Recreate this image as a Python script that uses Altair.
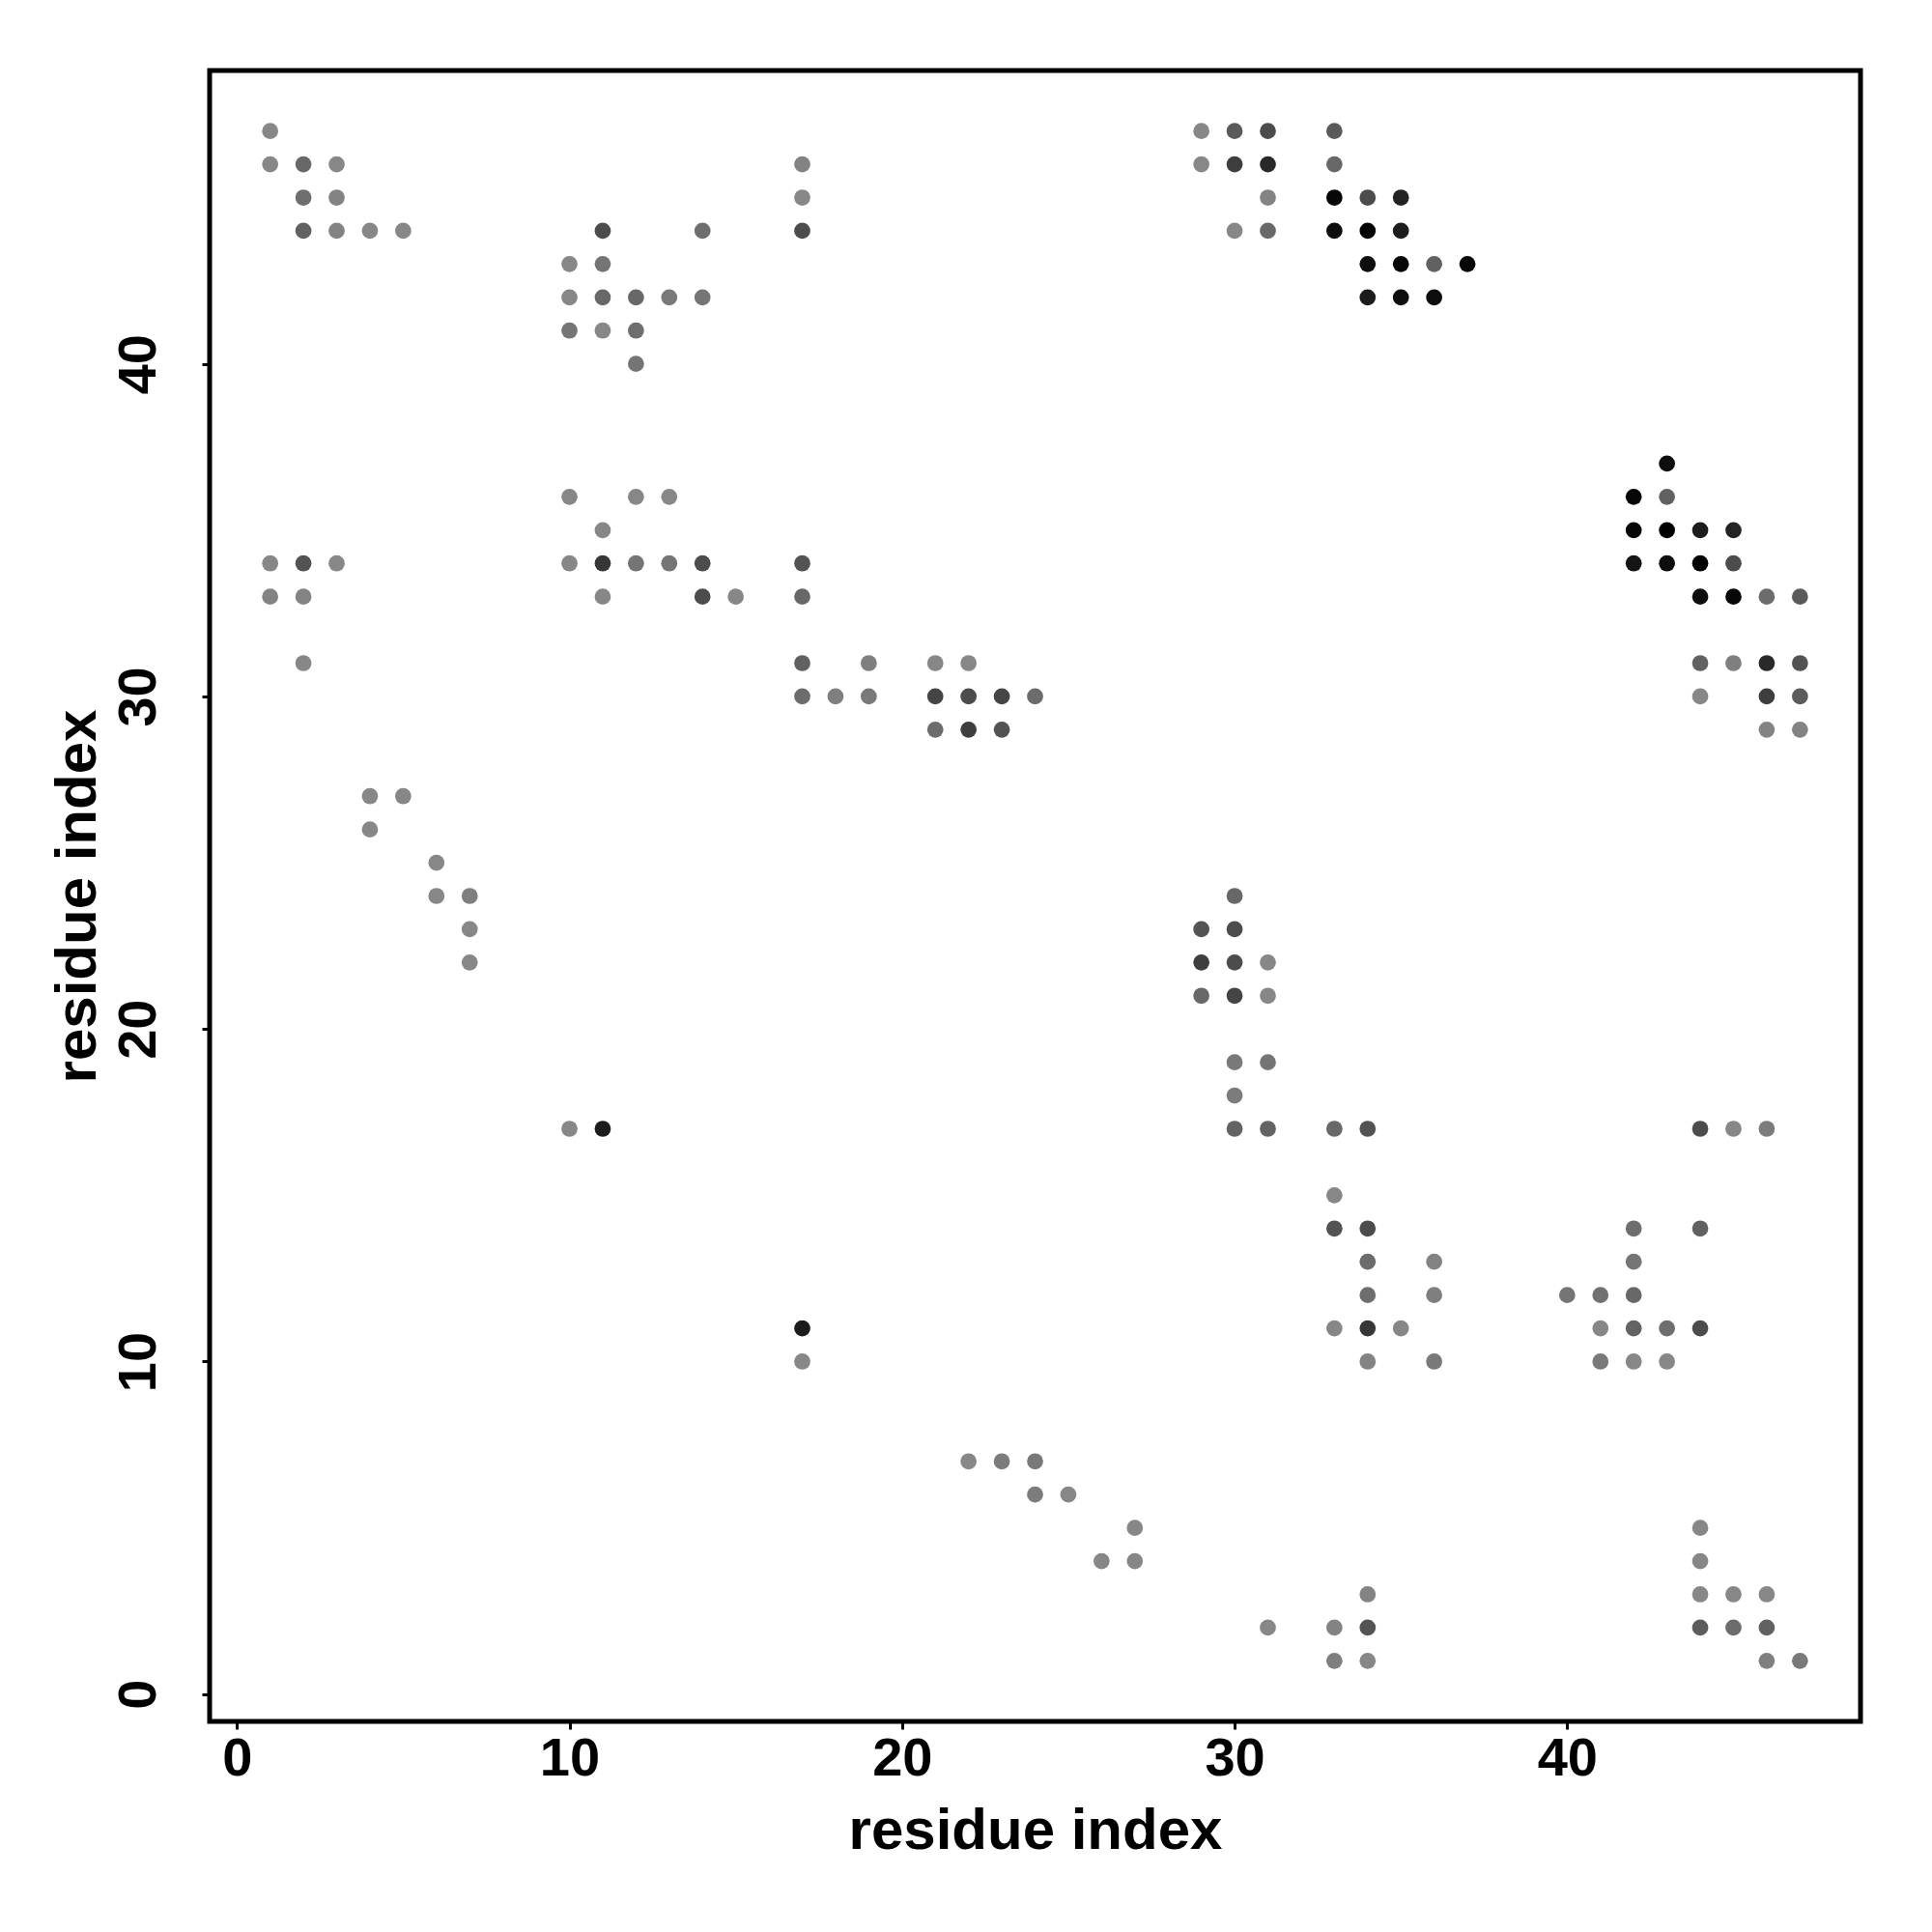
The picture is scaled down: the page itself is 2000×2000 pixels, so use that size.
import altair as alt
import pandas as pd

# residue pairs (x, y) and contact strength (0 = faint grey, 1 = black)
xs = [1, 1, 2, 3, 2, 3, 2, 3, 4, 5,
      11, 14, 10, 11, 10, 11, 12, 13, 14, 10, 11, 12, 12,
      17, 17, 17,
      29, 30, 31, 33, 29, 30, 31, 33, 31, 33, 34, 35, 30, 31, 33, 34, 35, 34, 35, 36, 37, 34, 35, 36,
      43, 42, 43, 42, 43, 44, 45, 42, 43, 44, 45, 44, 45, 46, 47, 44, 45, 46, 47, 44, 46, 47, 46, 47,
      1, 2, 3, 1, 2, 2,
      10, 12, 13, 11, 10, 11, 12, 13, 14, 11, 14, 15, 17, 17,
      17, 19, 17, 18, 19, 21, 22, 21, 22, 23, 24, 21, 22, 23,
      4, 5, 4, 6, 6, 7, 7, 7,
      10, 11,
      30, 29, 30, 29, 30, 31, 29, 30, 31, 30, 31, 30, 30, 31,
      33, 34, 44, 45, 46,
      33, 33, 34, 42, 44, 34, 36, 42, 34, 36, 40, 41, 42,
      33, 34, 35, 41, 42, 43, 44, 34, 36, 41, 42, 43,
      17, 17,
      22, 23, 24, 24, 25, 27, 26, 27,
      31, 33, 34, 34, 33, 34,
      44, 44, 44, 45, 46, 44, 45, 46, 46, 47]

ys = [47, 46, 46, 46, 45, 45, 44, 44, 44, 44,
      44, 44, 43, 43, 42, 42, 42, 42, 42, 41, 41, 41, 40,
      46, 45, 44,
      47, 47, 47, 47, 46, 46, 46, 46, 45, 45, 45, 45, 44, 44, 44, 44, 44, 43, 43, 43, 43, 42, 42, 42,
      37, 36, 36, 35, 35, 35, 35, 34, 34, 34, 34, 33, 33, 33, 33, 31, 31, 31, 31, 30, 30, 30, 29, 29,
      34, 34, 34, 33, 33, 31,
      36, 36, 36, 35, 34, 34, 34, 34, 34, 33, 33, 33, 34, 33,
      31, 31, 30, 30, 30, 31, 31, 30, 30, 30, 30, 29, 29, 29,
      27, 27, 26, 25, 24, 24, 23, 22,
      17, 17,
      24, 23, 23, 22, 22, 22, 21, 21, 21, 19, 19, 18, 17, 17,
      17, 17, 17, 17, 17,
      15, 14, 14, 14, 14, 13, 13, 13, 12, 12, 12, 12, 12,
      11, 11, 11, 11, 11, 11, 11, 10, 10, 10, 10, 10,
      11, 10,
      7, 7, 7, 6, 6, 5, 4, 4,
      2, 2, 2, 3, 1, 1,
      5, 4, 3, 3, 3, 2, 2, 2, 1, 1]

vs = [0.02, 0.02, 0.25, 0.02, 0.2, 0.05, 0.3, 0.05, 0.02, 0.02,
      0.45, 0.2, 0.02, 0.15, 0.02, 0.25, 0.25, 0.12, 0.15, 0.15, 0.02, 0.2, 0.15,
      0.05, 0.02, 0.45,
      0.02, 0.35, 0.45, 0.35, 0.02, 0.55, 0.7, 0.25, 0.05, 0.95, 0.45, 0.75, 0.02, 0.25, 0.9, 1.0, 0.8, 0.9, 0.95, 0.3, 0.95, 0.8, 0.9, 0.9,
      0.9, 0.95, 0.3, 0.95, 1.0, 0.8, 0.75, 0.85, 0.9, 1.0, 0.45, 0.9, 0.95, 0.22, 0.35, 0.3, 0.08, 0.7, 0.4, 0.02, 0.55, 0.33, 0.05, 0.05,
      0.02, 0.4, 0.02, 0.05, 0.05, 0.02,
      0.02, 0.02, 0.02, 0.02, 0.02, 0.6, 0.15, 0.15, 0.45, 0.02, 0.45, 0.02, 0.4, 0.25,
      0.3, 0.08, 0.22, 0.08, 0.12, 0.02, 0.02, 0.5, 0.45, 0.5, 0.22, 0.22, 0.55, 0.4,
      0.02, 0.02, 0.02, 0.02, 0.02, 0.08, 0.02, 0.02,
      0.02, 0.8,
      0.25, 0.4, 0.45, 0.55, 0.45, 0.02, 0.25, 0.5, 0.02, 0.12, 0.15, 0.1, 0.28, 0.28,
      0.25, 0.4, 0.45, 0.02, 0.1,
      0.02, 0.4, 0.45, 0.2, 0.3, 0.22, 0.05, 0.15, 0.2, 0.08, 0.15, 0.18, 0.25,
      0.02, 0.6, 0.02, 0.02, 0.28, 0.2, 0.45, 0.05, 0.12, 0.12, 0.02, 0.02,
      0.8, 0.02,
      0.02, 0.1, 0.12, 0.1, 0.02, 0.02, 0.02, 0.02,
      0.02, 0.05, 0.4, 0.05, 0.08, 0.02,
      0.02, 0.02, 0.02, 0.02, 0.02, 0.33, 0.22, 0.3, 0.08, 0.12]

tick_values = [0, 10, 20, 30, 40]

df = pd.DataFrame({"x": xs, "y": ys, "v": vs})

FONT = "Liberation Sans"
W = 1709
H = 1709

common_axis = dict(
    values=tick_values,
    grid=False,
    domain=False,
    ticks=True,
    tickSize=8,
    tickWidth=3,
    tickColor="black",
    labelFont=FONT,
    labelFontSize=56,
    labelFontWeight="bold",
    labelColor="black",
    labelFlush=False,
    labelOverlap=False,
    labelBaseline="alphabetic",
    titleFont=FONT,
    titleFontSize=60,
    titleFontWeight="bold",
    titleColor="black",
    titleBaseline="alphabetic",
    titleAlign="center",
)

chart = alt.Chart(df).mark_circle(size=280, opacity=1).encode(
    x=alt.X("x:Q",
            scale=alt.Scale(domain=[-0.82, 48.82], nice=False, zero=False),
            axis=alt.Axis(title="residue index", labelPadding=47,
                          titleY=131, titleX=W / 2, **common_axis)),
    y=alt.Y("y:Q",
            scale=alt.Scale(domain=[-0.82, 48.82], nice=False, zero=False),
            axis=alt.Axis(title="residue index", labelPadding=49,
                          labelAngle=270, labelAlign="center",
                          titleAngle=270, titleX=-119, titleY=H / 2,
                          **common_axis)),
    color=alt.Color("v:Q",
                    scale=alt.Scale(domain=[0, 1], range=["#8a8a8a", "#000000"],
                                    interpolate="rgb"),
                    legend=None),
).properties(
    width=W,
    height=H,
    padding={"left": 209, "top": 65, "right": 60, "bottom": 160},
    autosize=alt.AutoSizeParams(type="none"),
    background="white",
).configure_view(
    stroke="black",
    strokeWidth=5,
)

chart.save("out.html", embed_options={"renderer": "svg", "actions": False})
